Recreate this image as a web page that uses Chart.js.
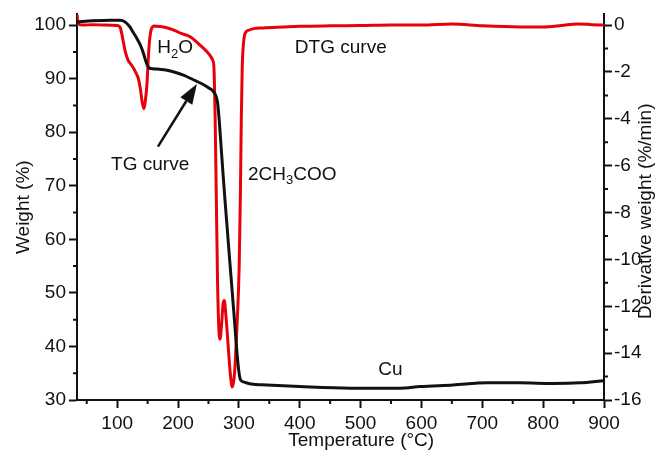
<!DOCTYPE html>
<html>
<head>
<meta charset="utf-8">
<script src="https://cdn.jsdelivr.net/npm/chart.js@4"></script>
<style>
  html, body { margin: 0; padding: 0; background: #fff; }
  canvas { display: block; }
</style>
</head>
<body>
<canvas id="chart" width="657" height="454"></canvas>
<script>
// ── Data ───────────────────────────────────────────────────

// TG curve: weight (%) vs temperature (°C), left axis
const tgTemp = [34, 60, 90, 105, 113, 120, 126, 132, 138, 143, 147, 151, 155, 165, 180, 195, 210, 225, 240, 250, 258,
    265, 268, 271, 274, 277, 281, 285, 289, 293, 297, 300, 302, 305, 310, 320, 346, 400, 483, 565, 598, 652, 708, 762, 816, 860, 900];
const tgWeight = [100.6, 100.8, 100.9, 100.9, 100.6, 99.8, 98.7, 97.6, 96.3, 94.8, 93.3, 92.2, 91.9, 91.8, 91.6, 91.2, 90.6, 89.8, 89.0, 88.3, 87.6,
    85.5, 81.8, 77.0, 72.2, 67.6, 61.8, 56.0, 50.3, 44.5, 38.7, 35.3, 34.0, 33.5, 33.3, 33.0, 32.8, 32.5, 32.2, 32.2, 32.5, 32.8, 33.2, 33.2, 33.1, 33.2, 33.6];

// DTG curve: derivative weight (%/min) vs temperature (°C), right axis
const dtgTemp = [34, 36, 45, 60, 80, 100, 105, 110, 114, 118, 122, 126, 131, 135, 138, 141, 144, 146, 149, 151, 153, 155, 157, 160,
    170, 180, 192, 205, 220, 236, 248, 254, 257, 259, 261, 263, 265, 267, 269, 271.5, 274, 276, 279, 283, 286, 289, 292, 294.5, 297,
    300.5, 302.5, 304, 305.5, 307.5, 310, 316, 323, 340, 373, 400, 450, 500, 550, 600, 650, 700, 762, 800, 830, 856, 880, 900];
const dtgRate = [0.45, 0.05, 0.0, 0.02, 0.0, -0.02, -0.1, -0.7, -1.2, -1.5, -1.65, -1.8, -2.05, -2.3, -2.7, -3.27, -3.57, -3.3, -2.5, -1.5, -0.7, -0.3, -0.12, -0.04,
    -0.06, -0.1, -0.2, -0.35, -0.5, -0.85, -1.15, -1.35, -1.5, -1.8, -4, -7.5, -11, -12.9, -13.4, -12.8, -11.9, -11.75, -12.5, -13.9, -14.9, -15.45, -15.1, -14.2, -12.8,
    -10.3, -7.2, -4, -1.8, -0.8, -0.37, -0.22, -0.16, -0.12, -0.08, -0.05, -0.03, -0.02, 0.0, 0.0, 0.05, -0.03, -0.08, -0.08, -0.02, 0.05, 0.02, 0.0];

// Tick values
const tempTicks = [100, 200, 300, 400, 500, 600, 700, 800, 900];
const tempMinorTicks = [50, 150, 250, 350, 450, 550, 650, 750, 850];
const weightTicks = [30, 40, 50, 60, 70, 80, 90, 100];
const weightMinorTicks = [35, 45, 55, 65, 75, 85, 95];
const rateTicks = [0, -2, -4, -6, -8, -10, -12, -14, -16];
const rateMinorTicks = [-1, -3, -5, -7, -9, -11, -13, -15];

// ── Styling ────────────────────────────────────────────────

const FONT = '"Liberation Sans", Arial, Helvetica, sans-serif';
const RED = '#e8000b';
const INK = '#111';

// Text annotations, placed in data coordinates (temperature, weight)
const notes = [
    { parts: [['H'], ['2', true], ['O']], t: 166, w: 95.7 },
    { parts: [['DTG curve']], t: 392, w: 95.8 },
    { parts: [['TG curve']], t: 90, w: 74.0 },
    { parts: [['2CH'], ['3', true], ['COO']], t: 315, w: 72.1 },
    { parts: [['Cu']], t: 529, w: 35.7 },
];
const arrow = { from: { t: 167, w: 77.3 }, to: { t: 231, w: 89.0 } };

function toPoints(xs, ys) {
    return xs.map((x, i) => ({ x, y: ys[i] }));
}

function fixTicks(values) {
    return scale => { scale.ticks = values.map(v => ({ value: v })); };
}

// Plugin : minor ticks, annotations, arrow and some axis titles
const decorPlugin = {
    id: 'decor',
    afterDraw(chart) {
        const { ctx, chartArea, scales } = chart;
        const { x, y, y2 } = scales;
        ctx.save();

        // Minor ticks (shorter, outward)
        ctx.strokeStyle = INK;
        ctx.lineWidth = 2;
        ctx.beginPath();
        tempMinorTicks.forEach(v => {
            const px = x.getPixelForValue(v);
            ctx.moveTo(px, chartArea.bottom);
            ctx.lineTo(px, chartArea.bottom + 4);
        });
        weightMinorTicks.forEach(v => {
            const py = y.getPixelForValue(v);
            ctx.moveTo(chartArea.left, py);
            ctx.lineTo(chartArea.left - 4, py);
        });
        rateMinorTicks.forEach(v => {
            const py = y2.getPixelForValue(v);
            ctx.moveTo(chartArea.right, py);
            ctx.lineTo(chartArea.right + 4, py);
        });
        ctx.stroke();

        // Labels with subscripts
        ctx.fillStyle = INK;
        ctx.textBaseline = 'middle';
        ctx.textAlign = 'left';
        notes.forEach(n => {
            let px = x.getPixelForValue(n.t);
            const py = y.getPixelForValue(n.w);
            n.parts.forEach(([txt, sub]) => {
                ctx.font = sub ? `13px ${FONT}` : `19px ${FONT}`;
                ctx.fillText(txt, px, sub ? py + 6 : py);
                px += ctx.measureText(txt).width;
            });
        });

        // Arrow pointing at the TG curve
        const x0 = x.getPixelForValue(arrow.from.t), y0 = y.getPixelForValue(arrow.from.w);
        const x1 = x.getPixelForValue(arrow.to.t), y1 = y.getPixelForValue(arrow.to.w);
        const ang = Math.atan2(y1 - y0, x1 - x0);
        const headLen = 20, headW = 7;
        const bx = x1 - headLen * Math.cos(ang), by = y1 - headLen * Math.sin(ang);
        ctx.strokeStyle = INK;
        ctx.lineWidth = 2.5;
        ctx.beginPath();
        ctx.moveTo(x0, y0);
        ctx.lineTo(bx, by);
        ctx.stroke();
        ctx.beginPath();
        ctx.moveTo(x1, y1);
        ctx.lineTo(bx + headW * Math.sin(ang), by - headW * Math.cos(ang));
        ctx.lineTo(bx - headW * Math.sin(ang), by + headW * Math.cos(ang));
        ctx.closePath();
        ctx.fill();

        // X axis title
        ctx.font = `19px ${FONT}`;
        ctx.textAlign = 'center';
        ctx.fillText('Temperature (°C)', x.getPixelForValue(501), chartArea.bottom + 41);

        // Right axis title, reading bottom-to-top like the left one
        ctx.translate(chartArea.right + 42, (chartArea.top + chartArea.bottom) / 2 + 4);
        ctx.rotate(-Math.PI / 2);
        ctx.fillText('Derivative weight (%/min)', 0, 0);

        ctx.restore();
    }
};

const tickFont = { family: FONT, size: 19 };

new Chart(document.getElementById('chart'), {
    type: 'line',
    data: {
        datasets: [
            {
                label: 'TG curve',
                data: toPoints(tgTemp, tgWeight),
                yAxisID: 'y',
                borderColor: INK,
                borderWidth: 3,
                pointRadius: 0,
                cubicInterpolationMode: 'monotone',
            },
            {
                label: 'DTG curve',
                data: toPoints(dtgTemp, dtgRate),
                yAxisID: 'y2',
                borderColor: RED,
                borderWidth: 3,
                pointRadius: 0,
                cubicInterpolationMode: 'monotone',
            }
        ]
    },
    plugins: [decorPlugin],
    options: {
        responsive: false,
        animation: false,
        layout: { padding: { top: 12, left: 0, right: 0, bottom: 0 } },
        plugins: { legend: { display: false }, tooltip: { enabled: false } },
        scales: {
            x: {
                type: 'linear',
                min: 34,
                max: 900,
                afterBuildTicks: fixTicks(tempTicks),
                afterFit: s => { s.height = 54; },
                ticks: { font: tickFont, color: INK, padding: 4, maxRotation: 0, autoSkip: false },
                grid: { drawOnChartArea: false, tickLength: 8, tickWidth: 2, tickColor: INK },
                border: { color: INK, width: 2 },
            },
            y: {
                position: 'left',
                min: 30,
                max: 102,
                afterBuildTicks: fixTicks(weightTicks),
                afterFit: s => { s.width = 77; },
                ticks: { font: tickFont, color: INK, padding: 3 },
                grid: { drawOnChartArea: false, tickLength: 8, tickWidth: 2, tickColor: INK },
                border: { color: INK, width: 2 },
                title: { display: true, text: 'Weight (%)', color: INK, font: tickFont, padding: { top: 12, bottom: 0 } },
            },
            y2: {
                position: 'right',
                min: -16,
                max: 0.457,
                afterBuildTicks: fixTicks(rateTicks),
                afterFit: s => { s.width = 53; },
                ticks: { font: tickFont, color: INK, padding: 2 },
                grid: { drawOnChartArea: false, tickLength: 8, tickWidth: 2, tickColor: INK },
                border: { color: INK, width: 2 },
            }
        }
    }
});
</script>
</body>
</html>
